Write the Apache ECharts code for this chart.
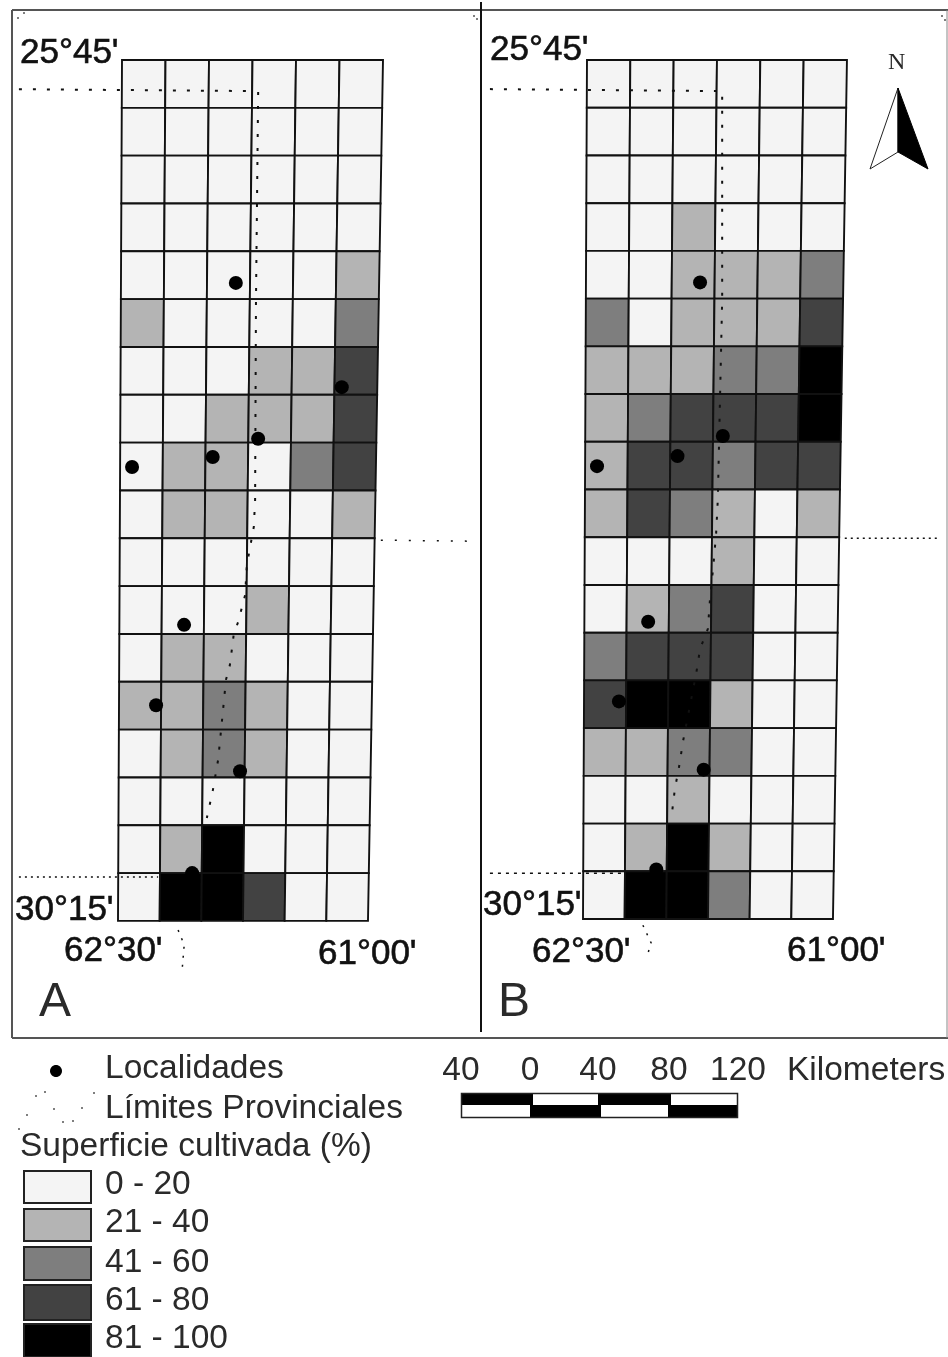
<!DOCTYPE html>
<html><head><meta charset="utf-8">
<style>html,body{margin:0;padding:0;background:#fff}#c{width:948px;height:1357px}</style>
<script src="https://cdn.jsdelivr.net/npm/echarts@6/dist/echarts.min.js"></script>
</head><body><div id="c"></div>
<script>
// class index per cell (1 = 0-20 ... 5 = 81-100), north to south
const cellsA = [
 [1,1,1,1,1,1],[1,1,1,1,1,1],[1,1,1,1,1,1],[1,1,1,1,1,1],
 [1,1,1,1,1,2],[2,1,1,1,1,3],[1,1,1,2,2,4],[1,1,2,2,2,4],
 [1,2,2,1,3,4],[1,2,2,1,1,2],[1,1,1,1,1,1],[1,1,1,2,1,1],
 [1,2,2,1,1,1],[2,2,3,2,1,1],[1,2,3,2,1,1],[1,1,1,1,1,1],
 [1,2,5,1,1,1],[1,5,5,4,1,1]];
const cellsB = [
 [1,1,1,1,1,1],[1,1,1,1,1,1],[1,1,1,1,1,1],[1,1,2,1,1,1],
 [1,1,2,2,2,3],[3,1,2,2,2,4],[2,2,2,3,3,5],[2,3,4,4,4,5],
 [2,4,4,3,4,4],[2,4,3,2,1,2],[1,1,1,2,1,1],[1,2,3,4,1,1],
 [3,4,4,4,1,1],[4,5,5,2,1,1],[2,2,3,3,1,1],[1,1,2,1,1,1],
 [1,2,5,2,1,1],[1,5,5,3,1,1]];
// localities, in [column, row] cell units
const townsA = [[2.67,4.66],[5.17,6.84],[3.23,7.92],[2.17,8.30],[0.28,8.51],[1.53,11.81],[0.88,13.49],[2.89,14.87],[1.77,17.0]];
const townsB = [[2.66,4.66],[3.23,7.88],[2.17,8.30],[0.28,8.51],[1.51,11.77],[0.83,13.44],[2.86,14.87],[1.75,16.96]];
// provincial limits, in axis units
const limitNorthA = [[-2.37,.61],[3.08,.65]];
const limitMainA = [[3.13,.67],[3.08,5.02],[3.06,9.2],[3.03,9.76],[2.87,10.56],[2.83,11.19],[2.67,11.75],[2.57,12.0],[2.48,12.65],[2.39,12.96],[2.3,13.8],[2.21,14.63],[2.09,15.26],[1.95,15.85]];
const limitEastA = [[5.95,10.04],[7.95,10.06]];
const limitSouthA = [[-2.37,17.08],[.83,17.08]];
const limitTailA = [[1.29,18.19],[1.43,18.5],[1.38,19.05]];
const limitNorthB = [[-2.24,.61],[2.98,.65]];
const limitMainB = [[3.12,.77],[3.12,5.02],[3.02,9.2],[2.98,9.93],[2.91,10.66],[2.84,11.29],[2.79,11.92],[2.61,12.34],[2.52,12.86],[2.22,14.26],[2.12,14.84],[2.03,15.26],[1.96,15.79]];
const limitEastB = [[5.95,10.02],[8.15,10.02]];
const limitSouthB = [[-2.24,17.04],[.88,17.04]];
const limitTailB = [[1.29,18.13],[1.48,18.5],[1.41,18.71]];
const classColors = ['#f4f4f4','#b4b4b4','#7e7e7e','#424242','#000000'];
const classLabels = ['0 - 20','21 - 40','41 - 60','61 - 80','81 - 100'];
const scaleTicks = ['40','0','40','80','120'];

const FONT = '"Liberation Sans", Arial, sans-serif';
function warper(shift, shrink){ // map sheet narrows slightly to the south
  return (c,r)=>[c*(1-shrink*r/18)+shift*r/18, r];
}
const warpA = warper(-0.092,0.0422), warpB = warper(-0.092,0.0385);

function flatten(cells){
  const out=[];
  cells.forEach((row,r)=>row.forEach((v,c)=>out.push([c,r,v])));
  return out;
}
function cellSeries(cells,warp,idx){
  return {type:'custom',xAxisIndex:idx,yAxisIndex:idx,data:flatten(cells),silent:true,z:2,
    encode:{x:0,y:1},
    renderItem:(p,api)=>{
      const c=api.value(0),r=api.value(1),v=api.value(2);
      const pts=[[c,r],[c+1,r],[c+1,r+1],[c,r+1]].map(q=>api.coord(warp(q[0],q[1])));
      return {type:'polygon',shape:{points:pts},style:{fill:classColors[v-1],stroke:'#111',lineWidth:1.9}};
    }};
}
function dots(towns,warp,idx){
  return {type:'scatter',xAxisIndex:idx,yAxisIndex:idx,data:towns.map(t=>warp(t[0],t[1])),symbol:'circle',symbolSize:14,clip:false,silent:true,z:5,itemStyle:{color:'#000',opacity:1}};
}
function dotted(pts,idx,w,dash){
  return {type:'line',xAxisIndex:idx,yAxisIndex:idx,data:pts,symbol:'none',clip:false,silent:true,z:4,
    lineStyle:{color:'#111',width:w,type:dash,opacity:1}};
}
function txt(s,x,y,size,opt){
  return {type:'text',z:10,silent:true,style:Object.assign({text:s,x:x,y:y,font:(opt&&opt.font)||`${size}px ${FONT}`,fill:'#2a2a2a',textAlign:'left',textVerticalAlign:'middle'},opt&&opt.style||{})};
}
function rect(x,y,w,h,fill,stroke,lw){
  return {type:'rect',z:8,silent:true,shape:{x,y,width:w,height:h},style:{fill:fill||'none',stroke:stroke||'none',lineWidth:lw||0}};
}
function seg(x1,y1,x2,y2,color,w){
  return {type:'line',z:1,silent:true,shape:{x1,y1,x2,y2},style:{stroke:color,lineWidth:w}};
}
const g=[];
// frames
g.push(seg(12,10,948,10,'#555',2),seg(12,10,12,1038,'#555',2),seg(12,1038,948,1038,'#555',2),seg(947,10,947,1038,'#888',1),seg(481,2,481,1032,'#111',2));
// corner specks
[[18,18],[24,13],[474,16],[477,19],[942,16],[945,20]].forEach(p=>g.push({type:'circle',z:8,silent:true,shape:{cx:p[0],cy:p[1],r:1},style:{fill:'#555'}}));
// map labels
const labelFont=`35px ${FONT}`;
[["25°45'",20,53],["30°15'",15,910],["62°30'",64,951],["61°00'",318,954],
 ["25°45'",490,50],["30°15'",483,905],["62°30'",532,952],["61°00'",787,951]].forEach(l=>g.push(txt(l[0],l[1],l[2],35,{font:labelFont,style:{fill:'#111',stroke:'#111',lineWidth:0.6}})));
g.push(txt('A',39,1003,48),txt('B',498,1003,48));
// north arrow
g.push(txt('N',888,63,24,{font:`24px "Liberation Serif", serif`}));
g.push({type:'polygon',z:8,silent:true,shape:{points:[[898,88],[870,169],[898,152]]},style:{fill:'#fff',stroke:'#222',lineWidth:1}});
g.push({type:'polygon',z:8,silent:true,shape:{points:[[898,88],[928,169],[898,152]]},style:{fill:'#000',stroke:'#000',lineWidth:1}});
// legend
g.push({type:'ellipse',z:8,silent:true,shape:{cx:56,cy:1071,rx:6,ry:6},style:{fill:'#000'}});
g.push(txt('Localidades',105,1069,33.5));
[[94,1093],[45,1092],[36,1096],[54,1109],[27,1115],[63,1122],[73,1121],[82,1108],[19,1129]].forEach(p=>g.push({type:'circle',z:8,silent:true,shape:{cx:p[0],cy:p[1],r:1},style:{fill:'#555'}}));
g.push(txt('Límites Provinciales',105,1109,33.5));
g.push(txt('Superficie cultivada (%)',20,1147,33.5));
const swY=[1171,1209,1247,1285,1324], swH=[32,32,33,35,33], lbY=[1185,1223,1263,1301,1339];
classLabels.forEach((s,i)=>{
  g.push(rect(24,swY[i],67,swH[i],classColors[i],'#222',2));
  g.push(txt(s,105,lbY[i],33.5));
});
// scale bar
const topCells=[[461,72,'#000'],[533,65,'#fff'],[598,73,'#000'],[671,66,'#fff']];
const botCells=[[461,69,'#fff'],[530,71,'#000'],[601,67,'#fff'],[668,69,'#000']];
topCells.forEach(c=>g.push(rect(c[0],1093,c[1],12,c[2])));
botCells.forEach(c=>g.push(rect(c[0],1105,c[1],12,c[2])));
g.push(rect(461.5,1093.5,276,24,null,'#222',1.5));
[461,530,598,669,738].forEach((x,i)=>g.push(txt(scaleTicks[i],x,1071,33.5,{style:{textAlign:'center'}})));
g.push(txt('Kilometers',787,1071,33.5));

const axisX=(i,max)=>({type:'value',gridIndex:i,min:-2.5,max:max,show:false});
const axisY=i=>({type:'value',gridIndex:i,min:-1,max:20,inverse:true,show:false});
const chart=echarts.init(document.getElementById('c'));
chart.setOption({
  animation:false,backgroundColor:'#fff',
  grid:[{left:13.25,top:12.17,width:456.75,height:1004.4},{left:478.67,top:12.28,width:463.6,height:1002.2}],
  xAxis:[axisX(0,8),axisX(1,8.2)],yAxis:[axisY(0),axisY(1)],
  series:[
    cellSeries(cellsA,warpA,0),cellSeries(cellsB,warpB,1),
    dotted(limitNorthA,0,2,[3,11]),dotted(limitMainA,0,2,[3,11]),dotted(limitEastA,0,1.5,[2,12]),dotted(limitSouthA,0,1.5,[2,4]),dotted(limitTailA,0,1.5,[2,7]),
    dotted(limitNorthB,1,2,[3,11]),dotted(limitMainB,1,2,[3,11]),dotted(limitEastB,1,1.5,[2,4]),dotted(limitSouthB,1,1.5,[3,5]),dotted(limitTailB,1,1.5,[2,7]),
    dots(townsA,warpA,0),dots(townsB,warpB,1)
  ],
  graphic:{elements:g}
});
</script></body></html>
